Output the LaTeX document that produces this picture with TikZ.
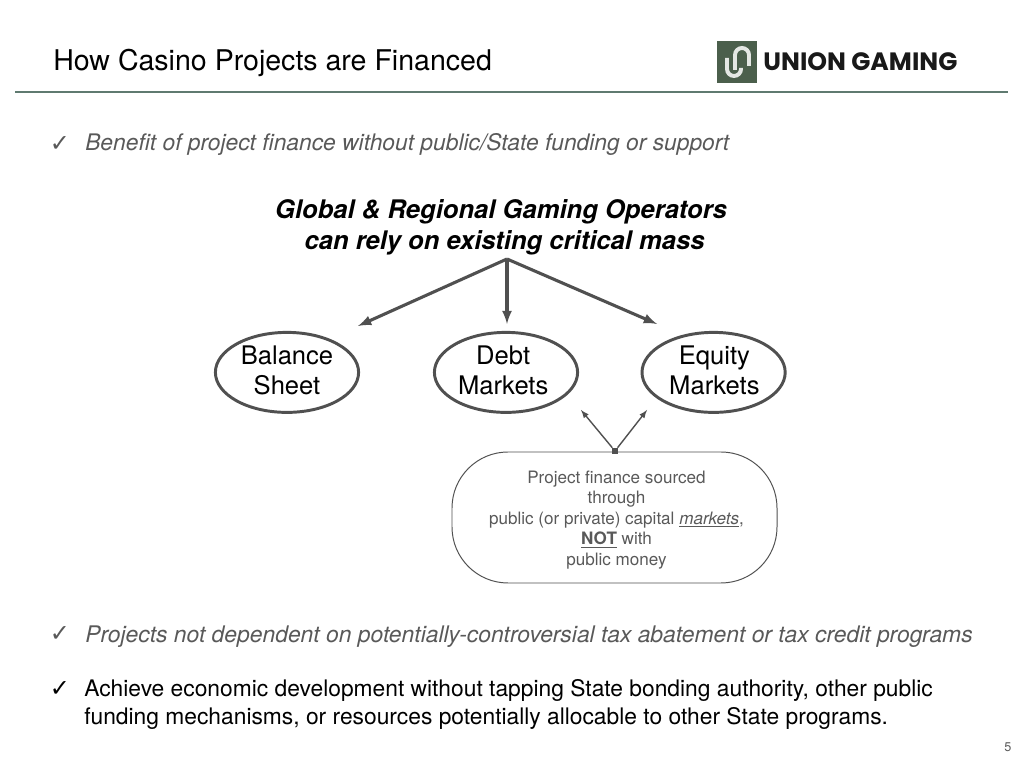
\documentclass[tikz,border=0pt]{standalone}
\usepackage{fontspec}
\setmainfont{TeX Gyre Heros}
\newfontfamily\checkfont{DejaVu Sans}
\newfontfamily\logofont{Poppins}
\usetikzlibrary{shapes.geometric}
\definecolor{slidegray}{HTML}{595959}
\definecolor{linegray}{HTML}{505050}
\definecolor{logogreen}{HTML}{4B5F4C}
\definecolor{rulegreen}{HTML}{5F7A70}
\tikzset{
  bullet/.style={anchor=base west, inner sep=0pt, font=\fontsize{16.22}{20}\selectfont},
  tick/.style={anchor=base, inner sep=0pt, font=\checkfont\fontsize{17}{20}\selectfont},
  market/.style={draw=linegray, line width=2.1pt, ellipse, minimum width=3.58cm, minimum height=2cm, inner sep=0pt},
  marketlabel/.style={inner sep=0pt, align=center, yshift=.05cm, font=\fontsize{18.2}{22}\selectfont},
  logoline/.style={white!85!logogreen, line width=2.8pt},
}

\begin{document}
\begin{tikzpicture}

\useasboundingbox (0,0) rectangle (25.6,19.2);

\node [anchor=base west, inner sep=0pt, font=\fontsize{20.3}{24}\selectfont] (title) at (1.325,17.425) {How Casino Projects are Financed};
\coordinate (ruleleft) at (.375,16.9);
\coordinate (ruleright) at (25.2,16.9);
\draw [rulegreen, line width=1pt] (ruleleft) -- (ruleright);

\node [fill=logogreen, minimum width=1cm, minimum height=1.05cm, inner sep=0pt] (logo) at (18.425,17.65) {};
\draw [logoline] (18.175,17.75) -- (18.175,17.475) arc (180:360:.175) -- (18.525,17.5);
\draw [logoline] (18.375,17.45) -- (18.375,17.825) arc (180:0:.175) -- (18.725,17.55);
\node [anchor=base west, inner sep=0pt, text=black!90, font=\logofont\bfseries\fontsize{17.85}{20}\selectfont] (brand) at (19.08,17.44) {UNION GAMING};

\node [tick, text=slidegray] (tickone) at (1.5,15.42) {✓};
\node [bullet, text=slidegray] (benefit) at (2.125,15.445) {\itshape Benefit of project finance without public/State funding or support};

\node [align=center, inner sep=0pt, font=\bfseries\itshape\fontsize{18.2}{22}\selectfont] (operators) at (12.525,13.525) {Global \& Regional Gaming Operators\\\mbox{}\ can rely on existing critical mass};

\coordinate (apex) at (12.675,12.725);
\coordinate (balancetip) at (8.95,11.05);
\coordinate (debttip) at (12.675,11.1);
\coordinate (equitytip) at (16.425,11.1);
\draw [linegray, line width=2.2pt, >=latex, ->] (apex) -- (balancetip);
\draw [linegray, line width=2.2pt, >=latex, ->] (apex) -- (debttip);
\draw [linegray, line width=2.2pt, >=latex, ->] (apex) -- (equitytip);

\node [market, label={[marketlabel]center:{Balance\\Sheet}}] (balance) at (7.175,9.89) {};
\node [market, label={[marketlabel, xshift=-.07cm]center:{Debt\\Markets}}] (debt) at (12.65,9.89) {};
\node [market, label={[marketlabel, xshift=.02cm]center:{Equity\\Markets}}] (equity) at (17.84,9.89) {};

\node [draw=linegray, line width=.7pt, rounded corners=1.4cm, minimum width=8.125cm, minimum height=3.275cm, inner sep=0pt,
  label={[inner sep=0pt, align=center, xshift=.05cm, yshift=-.06cm, text=slidegray, font=\fontsize{12.15}{14.6}\selectfont]center:{Project finance sourced\\through\\public (or private) capital \underline{\itshape markets},\\\underline{\bfseries NOT} with\\public money}}] (finance) at (15.3625,6.2625) {};
\node [fill=linegray, minimum size=.15cm, inner sep=0pt] (anchorbox) at (15.375,7.925) {};
\coordinate (debtarrow) at (14.525,8.95);
\coordinate (equityarrow) at (16.175,8.95);
\draw [linegray, line width=1pt, >=latex, ->] (anchorbox) -- (debtarrow);
\draw [linegray, line width=1pt, >=latex, ->] (anchorbox) -- (equityarrow);

\node [tick, text=slidegray] (ticktwo) at (1.5,3.15) {✓};
\node [bullet, text=slidegray, font=\fontsize{16.27}{20}\selectfont] (projects) at (2.125,3.145) {\itshape Projects not dependent on potentially-controversial tax abatement or tax credit programs};

\node [tick] (tickthree) at (1.5,1.78) {✓};
\node [bullet] (achieve) at (2.1,1.775) {Achieve economic development without tapping State bonding authority, other public};
\node [bullet] (funding) at (2.1,1.095) {funding mechanisms, or resources potentially allocable to other State programs.};

\node [text=slidegray, inner sep=0pt, font=\fontsize{9}{10}\selectfont] (pagenum) at (25.2,.525) {5};

\end{tikzpicture}
\end{document}
